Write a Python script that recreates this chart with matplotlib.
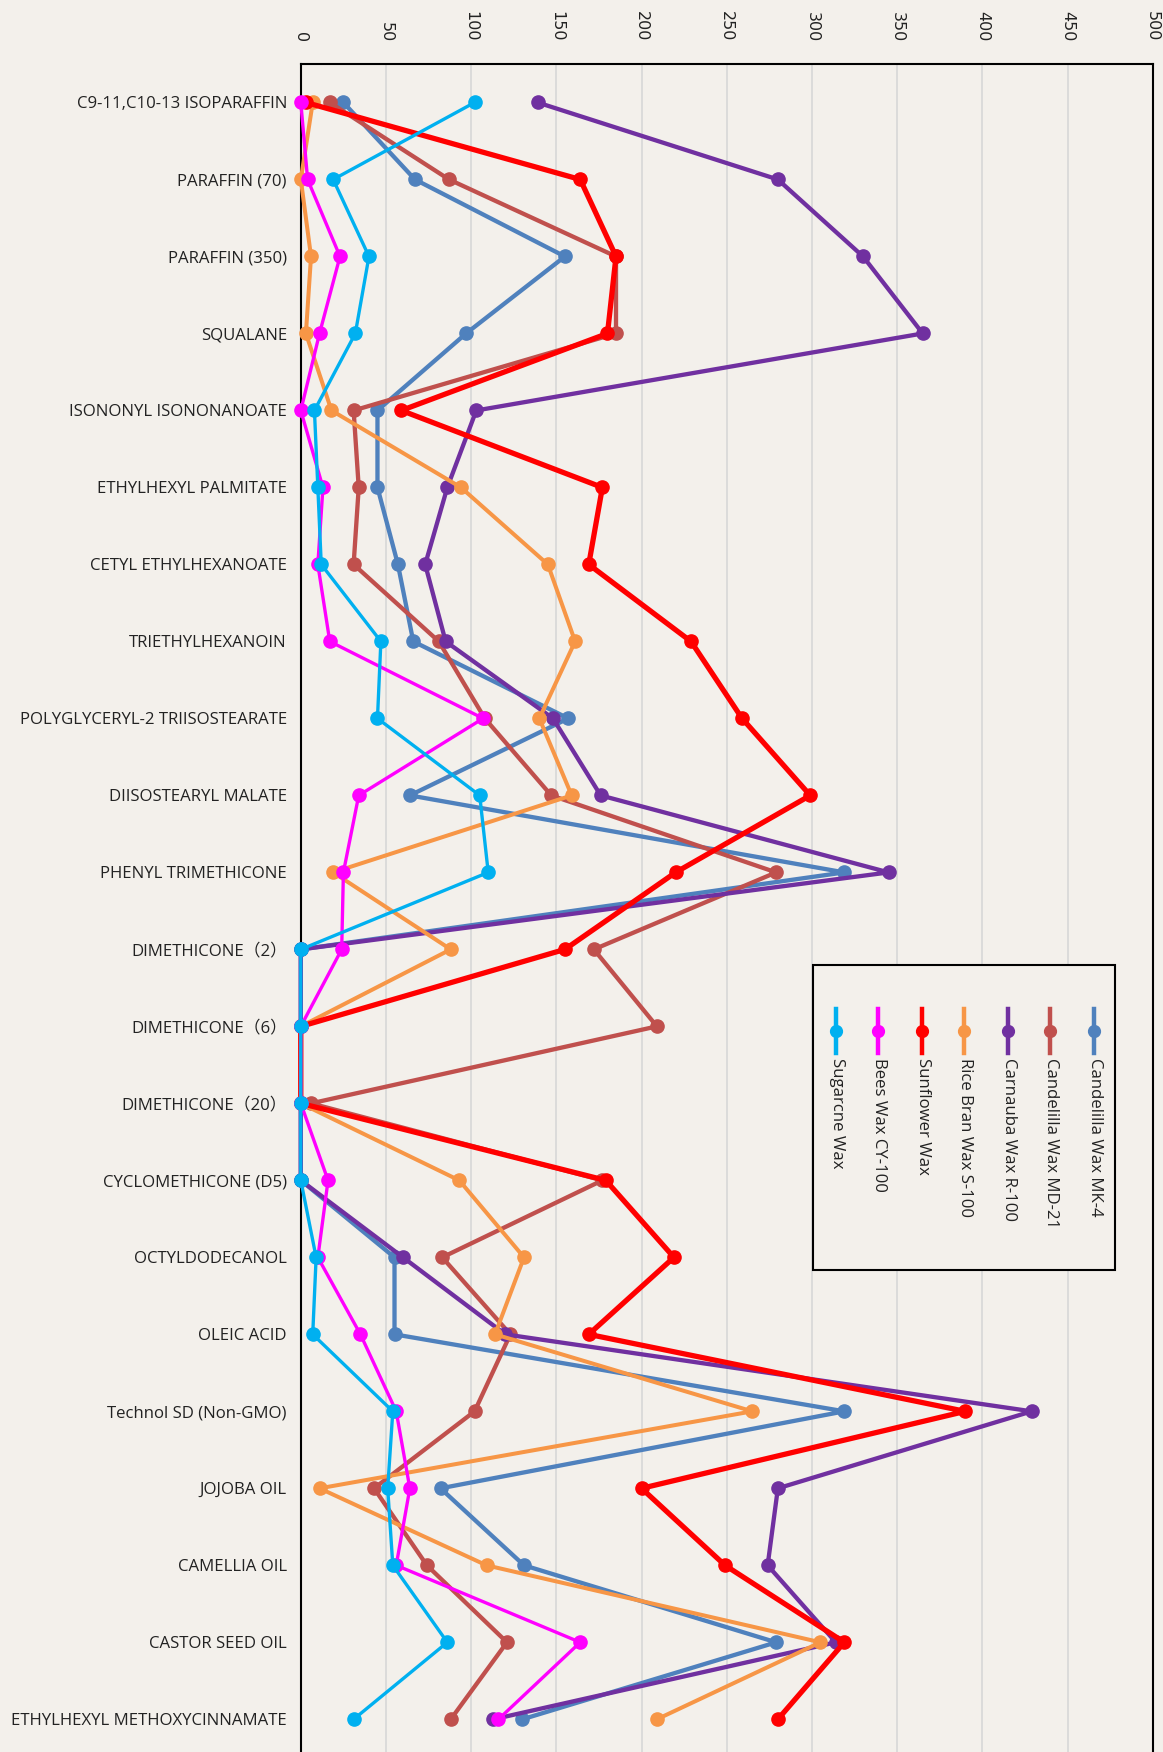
import matplotlib
matplotlib.use("Agg")
import matplotlib.pyplot as plt
from matplotlib.patches import Rectangle
from matplotlib.lines import Line2D

categories = [
    "C9-11,C10-13 ISOPARAFFIN", "PARAFFIN (70)", "PARAFFIN (350)", "SQUALANE",
    "ISONONYL ISONONANOATE", "ETHYLHEXYL PALMITATE", "CETYL ETHYLHEXANOATE",
    "TRIETHYLHEXANOIN", "POLYGLYCERYL-2 TRIISOSTEARATE", "DIISOSTEARYL MALATE",
    "PHENYL TRIMETHICONE", "DIMETHICONE（2）", "DIMETHICONE（6）", "DIMETHICONE（20）",
    "CYCLOMETHICONE (D5)", "OCTYLDODECANOL", "OLEIC ACID", "Technol SD (Non-GMO)",
    "JOJOBA OIL", "CAMELLIA OIL", "CASTOR SEED OIL", "ETHYLHEXYL METHOXYCINNAMATE",
]

candelilla_mk4 = [25, 67, 155, 97, 45, 45, 57, 66, 157, 64, 319, 0, 0, 0, 0, 55, 55, 319, 82, 131, 279, 130]
candelilla_md21 = [17, 87, 185, 185, 31, 34, 31, 81, 108, 147, 279, 172, 209, 6, 177, 83, 123, 102, 43, 74, 121, 88]
carnauba_r100 = [139, 280, 330, 365, 103, 86, 73, 85, 148, 176, 345, 0, 0, 0, 0, 60, 120, 429, 280, 274, 314, 113]
rice_bran_s100 = [7, 0, 6, 3, 18, 94, 145, 161, 140, 159, 19, 88, 0, 0, 93, 131, 114, 265, 11, 109, 305, 209]
sunflower = [3, 164, 185, 180, 59, 177, 169, 229, 259, 299, 220, 155, 0, 0, 179, 219, 169, 390, 200, 249, 319, 280]
bees_cy100 = [0, 4, 23, 11, 0, 13, 10, 17, 107, 34, 25, 24, 0, 0, 16, 10, 35, 56, 64, 56, 164, 116]
sugarcane = [102, 19, 40, 32, 8, 10, 12, 47, 45, 105, 110, 0, 0, 0, 0, 9, 7, 54, 51, 54, 86, 31]

series_names = ["Candelilla Wax MK-4", "Candelilla Wax MD-21", "Carnauba Wax R-100",
                "Rice Bran Wax S-100", "Sunflower Wax", "Bees Wax CY-100", "Sugarcne Wax"]
series_values = [candelilla_mk4, candelilla_md21, carnauba_r100, rice_bran_s100,
                 sunflower, bees_cy100, sugarcane]
colors = ["#4F81BD", "#C0504D", "#7030A0", "#F79646", "#FF0000", "#FF00FF", "#00B0F0"]
widths = [3.1, 3.1, 3.1, 2.9, 3.8, 2.4, 2.4]
x_ticks = [0, 50, 100, 150, 200, 250, 300, 350, 400, 450, 500]

W, H = 1163, 1752
bg = "#F3F0EB"
fig = plt.figure(figsize=(W / 100, H / 100), dpi=100, facecolor=bg)

left, right, top, bottom = 300.8, 1152.7, 64.0, 1757.8
ax = fig.add_axes([left / W, 1 - bottom / H, (right - left) / W, (bottom - top) / H])
ax.set_facecolor(bg)

ypos = list(range(len(categories)))
for name, vals, c, lw in zip(series_names, series_values, colors, widths):
    ax.plot(vals, ypos, color=c, lw=lw, marker="o", ms=9.5, label=name,
            solid_joinstyle="round", clip_on=False, zorder=3)

ax.set_xlim(0, 500)
ax.set_ylim(len(categories) - 0.5, -0.5)
ax.set_xticks(x_ticks)
ax.xaxis.tick_top()
ax.tick_params(axis="x", length=0, pad=16, labelsize=11.5, labelrotation=-90, labelcolor="#222222")
for lab in ax.get_xticklabels():
    lab.set_va("bottom")
ax.set_yticks(ypos)
ax.set_yticklabels(categories, family=["Open Sans", "Noto Sans CJK JP"], fontsize=12.1, color="#222222")
ax.tick_params(axis="y", length=0, pad=10)
ax.grid(axis="x", color="#D9D9D9", lw=1.3)
ax.set_axisbelow(True)
for s in ax.spines.values():
    s.set_color("black")
    s.set_linewidth(1.5)

# legend (rotated layout) drawn in figure pixel coordinates
def fx(px):
    return px / W

def fy(py):
    return 1 - py / H

box = Rectangle((fx(813), fy(1270)), fx(1115) - fx(813), fy(965) - fy(1270),
                transform=fig.transFigure, facecolor=bg, edgecolor="black", lw=1.5, zorder=5)
fig.add_artist(box)
leg_x = [1094, 1050, 1008, 964, 922, 878, 836]
for name, c, lx in zip(series_names, colors, leg_x):
    fig.add_artist(Line2D([fx(lx), fx(lx)], [fy(1009), fy(1053)], transform=fig.transFigure,
                          color=c, lw=3.2, zorder=6))
    fig.add_artist(Line2D([fx(lx)], [fy(1031)], transform=fig.transFigure, color=c,
                          marker="o", ms=8.5, zorder=7))
    fig.text(fx(lx + 1), fy(1058), name, rotation=-90, ha="center", va="top",
             fontsize=12.1, family="Open Sans", color="#222222", zorder=8)

fig.savefig("out.png", dpi=100, facecolor=bg)
